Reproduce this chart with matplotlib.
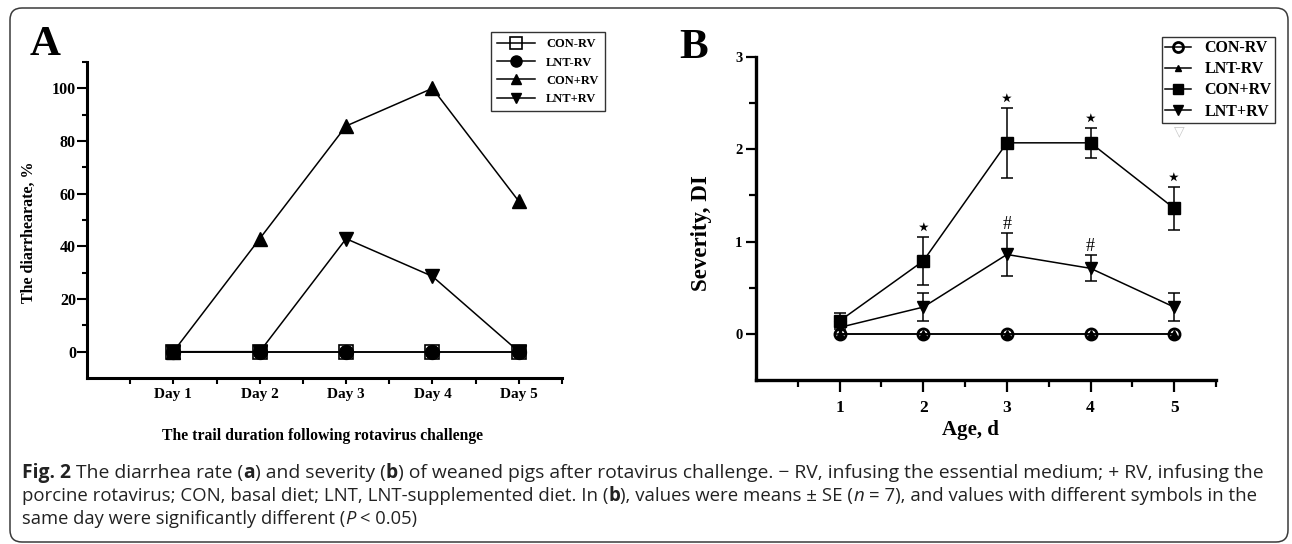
import numpy as np
import matplotlib
matplotlib.use("Agg")
import matplotlib.pyplot as plt
from matplotlib.patches import FancyBboxPatch
from matplotlib.transforms import IdentityTransform

# data
days = [1, 2, 3, 4, 5]
day_labels = ["Day 1", "Day 2", "Day 3", "Day 4", "Day 5"]
series_names = ["CON-RV", "LNT-RV", "CON+RV", "LNT+RV"]

# panel A: diarrhea rate, %
rate_con_minus = [0, 0, 0, 0, 0]
rate_lnt_minus = [0, 0, 0, 0, 0]
rate_con_plus = [0, 42.9, 85.7, 100, 57.1]
rate_lnt_plus = [0, 0, 42.9, 28.6, 0]

# panel B: severity (DI), mean and SE
sev_con_minus = [0, 0, 0, 0, 0]
sev_lnt_minus = [0, 0, 0, 0, 0]
sev_con_plus = [0.14, 0.79, 2.07, 2.07, 1.36]
sev_con_plus_se = [0.09, 0.26, 0.38, 0.16, 0.23]
sev_lnt_plus = [0.07, 0.29, 0.86, 0.71, 0.29]
sev_lnt_plus_se = [0.07, 0.15, 0.23, 0.14, 0.15]
star_days = [2, 3, 4, 5]
hash_days = [3, 4]

plt.rcParams['font.family'] = ['Liberation Serif', 'DejaVu Serif']
plt.rcParams['font.weight'] = 'bold'

W, H = 1292, 544
fig = plt.figure(figsize=(W / 100, H / 100), dpi=100)


def px_axes(l, t, r, b):
    return fig.add_axes([l / W, 1 - b / H, (r - l) / W, (b - t) / H])


def style_axes(ax, lw):
    for s in ['top', 'right']:
        ax.spines[s].set_visible(False)
    for s in ['left', 'bottom']:
        ax.spines[s].set_linewidth(lw)


# ---------------- panel A ----------------
axa = px_axes(87, 62, 562, 378)
style_axes(axa, 2.2)
ka = dict(color='black', lw=1.1, clip_on=False)
la1, = axa.plot(days, rate_con_minus, marker='s', ms=10, mfc='none', mec='black', mew=1.2, **ka)
la2, = axa.plot(days, rate_lnt_minus, marker='o', ms=10, **ka)
la3, = axa.plot(days, rate_con_plus, marker='^', ms=9.5, **ka)
la4, = axa.plot(days, rate_lnt_plus, marker='v', ms=9.5, **ka)
axa.set_xlim(0, 5.5)
axa.set_ylim(-10, 110)
axa.set_xticks(days)
axa.set_xticklabels(day_labels)
axa.set_xticks(np.arange(0.5, 5.6, 1.0), minor=True)
axa.set_yticks(np.arange(0, 101, 20))
axa.set_yticks(np.arange(10, 111, 20), minor=True)
axa.tick_params(axis='x', which='both', length=4.5, width=1.5, pad=3, labelsize=11)
axa.tick_params(axis='y', which='major', length=7, width=1.5, pad=1, labelsize=11.5)
axa.tick_params(axis='y', which='minor', length=3.3, width=1.5)
axa.set_ylabel("The diarrhearate, %", fontsize=11.5, fontweight='bold')
axa.yaxis.set_label_coords(-0.105, 0.46)
fig.text(323 / W, 1 - 440 / H, "The trail duration following rotavirus challenge",
         ha='center', va='baseline', fontsize=11.3, fontweight='bold')
fig.text(30 / W, 1 - 55 / H, "A", fontsize=31, fontweight='bold', va='baseline')
fig.legend([la1, la2, la3, la4], series_names, loc='upper left',
           bbox_to_anchor=(491 / W, 1 - 32 / H), borderaxespad=0,
           handlelength=3.0, handletextpad=0.9, labelspacing=0.5, borderpad=0.5,
           markerscale=0.8, fancybox=False, edgecolor='#333333', framealpha=1,
           prop=dict(weight='bold', size=9))

# ---------------- panel B ----------------
axb = px_axes(756, 57, 1216, 380)
style_axes(axb, 2.4)
lb1, = axb.plot(days, sev_con_minus, marker='o', ms=8, mfc='none', mec='black', mew=2,
                color='black', lw=1.1, clip_on=False, zorder=3)
lb2, = axb.plot(days, sev_lnt_minus, marker='^', ms=5.5, color='black', lw=1.1,
                clip_on=False, zorder=4)
eb3 = axb.errorbar(days, sev_con_plus, yerr=sev_con_plus_se, fmt='-s', ms=8, color='black',
                   lw=1.1, elinewidth=1.1, capsize=4.3, capthick=1.1, zorder=3)
eb4 = axb.errorbar(days, sev_lnt_plus, yerr=sev_lnt_plus_se, fmt='-v', ms=8.5, color='black',
                   lw=1.1, elinewidth=1.1, capsize=4.3, capthick=1.1, zorder=3)
axb.set_xlim(0, 5.5)
axb.set_ylim(-0.5, 3)
axb.set_xticks(days)
axb.set_xticks(np.arange(0.5, 5.6, 1.0), minor=True)
axb.set_yticks([0, 1, 2, 3])
axb.set_yticks([0.5, 1.5, 2.5], minor=True)
axb.tick_params(axis='x', which='major', length=8.6, width=1.6, pad=6, labelsize=12.5)
axb.tick_params(axis='x', which='minor', length=5, width=1.6)
axb.tick_params(axis='y', which='major', length=7.2, width=1.6, pad=2.5, labelsize=10.5)
axb.tick_params(axis='y', which='minor', length=5, width=1.6)
axb.set_ylabel("Severity, DI", fontsize=16.5, fontweight='bold')
axb.yaxis.set_label_coords(-0.096, 0.455)
fig.text(970 / W, 1 - 435 / H, "Age, d", ha='center', va='baseline',
         fontsize=15, fontweight='bold')
fig.text(679 / W, 1 - 58 / H, "B", fontsize=31, fontweight='bold', va='baseline')

for d in star_days:
    i = days.index(d)
    axb.annotate("⋆", (d, sev_con_plus[i] + sev_con_plus_se[i]), xytext=(0, 6),
                 textcoords='offset points', ha='center', va='center', fontsize=18,
                 family=['DejaVu Sans'], fontweight='normal')
for d in hash_days:
    i = days.index(d)
    axb.annotate("#", (d, sev_lnt_plus[i] + sev_lnt_plus_se[i]), xytext=(0, 6.5),
                 textcoords='offset points', ha='center', va='center', fontsize=13,
                 fontweight='normal')

fig.legend([lb1, lb2, eb3.lines[0], eb4.lines[0]], series_names, loc='upper left',
           bbox_to_anchor=(1162 / W, 1 - 37 / H), borderaxespad=0,
           handlelength=1.6, handletextpad=0.85, labelspacing=0.32, borderpad=0.2,
           markerscale=0.9, fancybox=False, edgecolor='#333333', framealpha=1,
           prop=dict(weight='bold', size=11.5))
fig.text(1179 / W, 1 - 131 / H, "▽", ha='center', va='center', color='#c8c8c8',
         fontsize=10, family=['DejaVu Sans'], fontweight='normal', zorder=10)

# ---------------- caption ----------------
cap_font = dict(family=['Open Sans', 'DejaVu Sans'], color='#222222')
renderer = fig.canvas.get_renderer()

caption = [
    [("Fig. 2", 'bold', 'normal'), (" The diarrhea rate (", 'normal', 'normal'), ("a", 'bold', 'normal'),
     (") and severity (", 'normal', 'normal'), ("b", 'bold', 'normal'),
     (") of weaned pigs after rotavirus challenge. \u2212 RV, infusing the essential medium; + RV, infusing the",
      'normal', 'normal')],
    [("porcine rotavirus; CON, basal diet; LNT, LNT-supplemented diet. In (", 'normal', 'normal'),
     ("b", 'bold', 'normal'), ("), values were means \u00b1 SE (", 'normal', 'normal'),
     ("n", 'normal', 'italic'), (" = 7), and values with different symbols in the", 'normal', 'normal')],
    [("same day were significantly different (", 'normal', 'normal'), ("P", 'normal', 'italic'),
     (" < 0.05)", 'normal', 'normal')],
]
baselines = [478, 501, 524]
line_ends = [1265, 1265, 420]
x_start = 22.0


def draw_caption_line(parts, yb, size):
    probe1 = fig.text(0, 0, "a a", fontsize=size, **cap_font)
    probe2 = fig.text(0, 0, "aa", fontsize=size, **cap_font)
    space_w = probe1.get_window_extent(renderer).width - probe2.get_window_extent(renderer).width
    probe1.remove()
    probe2.remove()
    x = x_start
    texts = []
    for s, wt, st in parts:
        lead = len(s) - len(s.lstrip(' '))
        trail = len(s) - len(s.rstrip(' '))
        x += lead * space_w
        t = fig.text(x / W, 1 - yb / H, s.strip(' '), ha='left', va='baseline',
                     fontsize=size, fontweight=wt, fontstyle=st, **cap_font)
        texts.append(t)
        x += t.get_window_extent(renderer).width + trail * space_w
    return texts, x


for parts, yb, x_end in zip(caption, baselines, line_ends):
    base = 14.0
    texts, x = draw_caption_line(parts, yb, base)
    for t in texts:
        t.remove()
    draw_caption_line(parts, yb, base * (x_end - x_start) / (x - x_start))

# rounded frame round the whole figure
frame = FancyBboxPatch((10, 2), 1278, 534, boxstyle='round,pad=0,rounding_size=12',
                       transform=IdentityTransform(), fill=False, edgecolor='#3a3a3a', lw=1.1)
fig.add_artist(frame)

fig.savefig("out.png", dpi=100)
